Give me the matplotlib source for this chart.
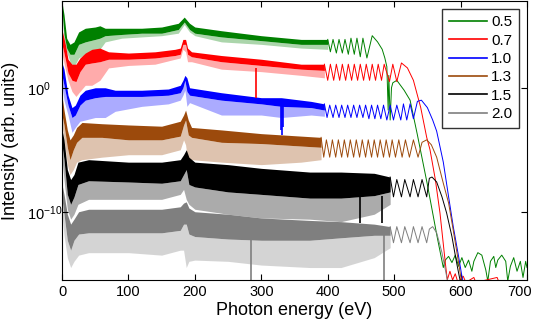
import numpy as np
import matplotlib
matplotlib.use('Agg')
import matplotlib.pyplot as plt
from matplotlib.ticker import NullLocator
from matplotlib.transforms import ScaledTranslation

plt.rcParams['font.family'] = ['Liberation Sans', 'DejaVu Sans']
plt.rcParams['mathtext.default'] = 'regular'

labels = ['0.5', '0.7', '1.0', '1.3', '1.5', '2.0']
colors = ['#008000', '#ff0000', '#0000ff', '#9c4a0c', '#000000', '#7f7f7f']

# noisy low-energy part: energy (eV) and log10(intensity) of
# band top, dense core bottom and tips of the downward spikes
green_e = [0, 3, 7, 12, 18, 25, 35, 50, 57, 65, 90, 120, 150, 175, 184, 192, 200, 240, 300, 360, 400]
green_top = [6.9, 5.9, 4.0, 3.5, 3.7, 4.5, 4.8, 4.9, 5.0, 4.8, 4.8, 4.8, 4.9, 5.2, 5.7, 5.2, 4.9, 4.6, 4.2, 3.9, 3.9]
green_core = [6.3, 4.3, 3.2, 2.7, 2.7, 3.5, 3.7, 3.9, 4.0, 4.2, 4.3, 4.4, 4.4, 4.7, 5.3, 4.7, 4.4, 4.1, 3.8, 3.5, 3.5]
green_spk = [5.9, 3.9, 2.9, 2.1, 1.7, 2.4, 2.7, 2.9, 3.1, 3.7, 4.0, 4.1, 4.2, 4.4, 5.1, 4.5, 4.2, 3.7, 3.5, 3.2, 3.1]

red_e = [0, 5, 9, 15, 21, 27, 35, 45, 57, 70, 100, 140, 170, 178, 182, 186, 189, 195, 240, 300, 360, 395]
red_top = [4.7, 3.5, 2.3, 1.9, 1.9, 2.4, 2.8, 3.1, 3.2, 2.9, 2.8, 2.9, 3.1, 3.2, 3.9, 3.9, 3.2, 2.9, 2.6, 2.3, 1.9, 1.9]
red_core = [3.5, 2.3, 1.2, 0.6, 0.5, 1.3, 1.9, 2.0, 2.1, 2.3, 2.3, 2.4, 2.6, 2.7, 3.5, 3.5, 2.7, 2.5, 2.1, 1.8, 1.5, 1.4]
red_spk = [2.7, 1.5, 0.6, -0.3, -0.7, -0.3, 0.2, 0.2, 0.6, 1.6, 1.8, 1.9, 2.3, 2.4, 3.1, 2.9, 2.1, 2.1, 1.5, 1.3, 1.0, 0.8]

blue_e = [0, 3, 9, 15, 20, 27, 35, 50, 65, 80, 120, 160, 178, 182, 185, 188, 192, 240, 300, 330, 375, 395]
blue_top = [2.0, 1.5, -0.6, -1.6, -1.4, -0.6, -0.2, 0.0, 0.0, -0.2, -0.2, -0.1, 0.2, 0.6, 1.0, 0.8, 0.0, -0.4, -0.8, -0.8, -1.1, -1.3]
blue_core = [1.0, 0.2, -1.4, -2.4, -2.2, -1.4, -1.0, -0.8, -0.7, -0.7, -0.7, -0.6, -0.4, 0.0, 0.6, -0.3, -0.6, -1.0, -1.3, -1.5, -1.6, -1.8]
blue_spk = [0.2, -1.0, -2.2, -3.6, -3.2, -2.7, -2.6, -2.4, -2.4, -1.9, -1.5, -1.3, -1.0, -0.6, -0.2, -1.5, -1.2, -2.2, -2.2, -2.4, -2.2, -2.3]

brown_e = [0, 3, 8, 12, 17, 22, 30, 60, 100, 150, 178, 183, 186, 190, 195, 240, 300, 360, 390]
brown_top = [-0.7, -1.8, -3.4, -4.2, -3.8, -3.2, -2.8, -2.9, -3.0, -3.1, -2.7, -2.2, -1.8, -2.6, -3.2, -3.4, -3.7, -3.9, -4.0]
brown_core = [-2.2, -3.0, -4.8, -5.8, -5.0, -4.4, -4.0, -4.0, -4.2, -4.2, -3.9, -3.0, -2.6, -3.8, -4.0, -4.4, -4.5, -4.7, -4.8]
brown_spk = [-3.0, -4.2, -6.2, -7.0, -6.6, -6.0, -5.8, -5.6, -5.4, -5.4, -5.0, -4.2, -4.6, -6.2, -5.8, -6.0, -6.2, -6.0, -5.8]

black_e = [0, 3, 8, 13, 18, 24, 40, 100, 150, 178, 183, 187, 191, 200, 250, 300, 373, 420, 470, 494]
black_top = [-3.4, -4.2, -6.6, -7.4, -7.0, -6.0, -5.8, -6.0, -6.0, -5.8, -5.4, -5.0, -5.6, -6.0, -6.2, -6.5, -6.8, -6.8, -6.9, -7.2]
black_core = [-4.6, -5.8, -8.6, -9.4, -8.8, -7.8, -7.5, -7.6, -7.7, -7.5, -7.0, -6.6, -7.8, -8.0, -8.4, -8.6, -8.9, -8.9, -8.7, -8.4]
black_spk = [-5.8, -7.4, -9.8, -10.6, -10.2, -9.4, -9.0, -9.0, -9.0, -8.6, -8.2, -9.0, -9.4, -9.8, -10.2, -10.5, -10.6, -10.8, -10.2, -9.4]

gray_e = [0, 3, 8, 13, 18, 25, 40, 100, 150, 178, 183, 187, 191, 200, 250, 300, 373, 420, 470, 494]
gray_top = [-7.8, -8.6, -10.2, -11.0, -10.6, -10.0, -9.8, -9.8, -9.8, -9.6, -9.3, -9.2, -9.7, -10.0, -10.2, -10.5, -10.7, -10.8, -11.0, -11.2]
gray_core = [-9.0, -10.2, -12.3, -13.1, -12.3, -11.8, -11.7, -11.7, -11.7, -11.5, -11.0, -11.0, -11.8, -12.0, -12.2, -12.3, -12.3, -12.1, -11.9, -11.9]
gray_spk = [-10.2, -11.9, -13.7, -14.5, -14.0, -13.5, -13.3, -13.3, -13.5, -13.1, -13.1, -14.5, -14.0, -13.9, -14.0, -14.3, -14.5, -14.5, -13.7, -12.9]

# fringes, cut-off and floor: energy (eV), log10(intensity)
green_le = [400, 404, 408, 413, 417, 422, 426, 431, 435, 440, 444, 449, 453, 459, 467, 475, 482,
            486, 489, 491, 492, 494, 496, 498, 504, 515, 524, 535, 550, 565, 574,
            577, 582, 587, 592, 597, 602, 607, 612, 617, 620, 626, 632, 638, 641, 645, 650,
            653, 656, 662, 668, 671, 675, 680, 685, 690, 694, 698, 700]
green_ly = [3.9, 2.9, 3.9, 2.8, 3.9, 2.8, 3.9, 2.7, 4.0, 2.7, 4.0, 2.5, 4.0, 2.4, 4.2, 3.7, 3.1,
            2.4, 1.7, -1.8, 1.0, -2.6, 0.0, 0.4, 0.6, -0.2, -1.0, -3.8, -7.8, -12.1, -14.5,
            -13.9, -13.6, -14.1, -13.5, -14.4, -13.7, -14.5, -13.9, -14.8, -14.0, -13.3, -13.5, -14.7, -15.6, -14.0, -13.6,
            -14.5, -13.9, -13.5, -14.0, -15.6, -14.4, -13.7, -14.8, -14.0, -15.3, -14.0, -14.5]

red_le = [395, 400, 404, 409, 413, 418, 422, 427, 431, 436, 440, 445, 449, 454, 458, 463, 467,
          472, 476, 481, 485, 493, 498, 504, 511, 520, 529, 540, 549, 554, 562, 569, 577,
          580, 584, 588, 592, 596, 604, 608, 620, 623, 655, 658, 700]
red_ly = [1.9, 0.6, 1.9, 0.6, 1.9, 0.6, 1.9, 0.6, 1.9, 0.6, 1.9, 0.6, 1.9, 0.6, 1.9, 0.6, 1.9,
          0.6, 1.9, 0.6, 1.9, 0.5, 1.9, 0.5, 2.0, 1.6, 0.6, -1.6, -4.0, -5.0, -7.4, -10.1, -14.1,
          -15.5, -14.8, -15.5, -15.0, -15.7, -15.2, -15.7, -15.3, -15.7, -15.3, -15.7, -15.7]

blue_le = [395, 399, 403, 408, 412, 417, 421, 426, 430, 435, 439, 444, 448, 453, 457, 462, 466,
           471, 475, 480, 484, 489, 494, 499, 504, 510, 514, 519, 524, 529, 535, 541, 550,
           558, 564, 574, 582, 589, 597, 602, 604]
blue_ly = [-1.3, -2.4, -1.4, -2.4, -1.4, -2.4, -1.4, -2.4, -1.4, -2.4, -1.4, -2.4, -1.4, -2.4, -1.4, -2.5, -1.4,
           -2.5, -1.4, -2.5, -1.4, -2.6, -1.4, -2.6, -1.4, -2.6, -1.3, -2.6, -1.3, -2.5, -1.1, -1.0, -1.6,
           -2.6, -3.5, -6.0, -8.8, -11.2, -13.6, -15.2, -15.7]

brown_le = [390, 394, 398, 403, 407, 412, 416, 421, 425, 430, 434, 439, 443, 448, 452, 457, 461,
            466, 470, 475, 479, 484, 488, 493, 497, 502, 507, 512, 517, 523, 529, 536, 542,
            549, 556, 564, 574, 582, 589, 597, 601, 603]
brown_ly = [-4.0, -5.6, -4.2, -5.6, -4.2, -5.6, -4.2, -5.6, -4.2, -5.6, -4.2, -5.6, -4.2, -5.6, -4.2, -5.6, -4.2,
            -5.6, -4.2, -5.6, -4.2, -5.6, -4.2, -5.6, -4.2, -5.6, -4.2, -5.6, -4.2, -5.6, -4.2, -5.6, -4.4,
            -4.2, -4.6, -5.6, -7.7, -9.3, -11.5, -14.1, -15.5, -15.7]

black_le = [494, 499, 504, 511, 516, 524, 529, 536, 542, 549, 553, 557, 564, 572, 579, 587, 594, 598, 600]
black_ly = [-7.2, -8.8, -7.4, -8.8, -7.4, -8.8, -7.4, -8.8, -7.4, -8.8, -7.3, -7.2, -7.6, -8.8, -10.1, -12.0, -14.1, -15.2, -15.7]

gray_le = [494, 499, 504, 511, 516, 524, 529, 536, 542, 549, 553, 558, 564, 572, 579, 581]
gray_ly = [-11.2, -12.5, -11.2, -12.5, -11.2, -12.5, -11.2, -12.5, -11.2, -12.5, -11.4, -11.2, -11.7, -13.3, -15.2, -15.7]

# single deep spikes: energy (eV), log10 of spike top and bottom
red_deep = [(292, 1.6, -0.8)]
blue_deep = [(329, -1.4, -3.4), (331, -1.4, -3.8), (333, -1.4, -3.2)]
black_deep = [(449, -8.8, -10.9), (481, -8.7, -10.9)]
gray_deep = [(284, -12.1, -15.5), (484, -11.9, -15.5)]

series = [
    (green_e, green_top, green_core, green_spk, green_le, green_ly, []),
    (red_e, red_top, red_core, red_spk, red_le, red_ly, red_deep),
    (blue_e, blue_top, blue_core, blue_spk, blue_le, blue_ly, blue_deep),
    (brown_e, brown_top, brown_core, brown_spk, brown_le, brown_ly, []),
    (black_e, black_top, black_core, black_spk, black_le, black_ly, black_deep),
    (gray_e, gray_top, gray_core, gray_spk, gray_le, gray_ly, gray_deep),
]


def p10(v):
    return np.power(10.0, np.asarray(v, dtype=float))


fig = plt.figure(figsize=(5.36, 3.24), dpi=100)
ax = fig.add_axes([0.1157, 0.136, 0.8675, 0.861])
ax.set_yscale('log')

handles = []
for (e, top, core, spk, le, ly, deep), c in zip(series, colors):
    ax.fill_between(e, p10(spk), p10(core), color=c, alpha=0.33, lw=0)
    ax.fill_between(e, p10(core), p10(top), color=c, lw=0)
    for de, hi, lo in deep:
        ax.vlines(de, 10.0 ** lo, 10.0 ** hi, color=c, lw=1.2)
    ln, = ax.plot(le, p10(ly), color=c, lw=0.7)
    handles.append(ln)

ax.set_xlim(0, 700)
ax.set_ylim(10 ** -15.5, 10 ** 7)
ax.set_xticks(range(0, 701, 100))
ax.set_yticks([1e-10, 1e0])
ax.yaxis.set_minor_locator(NullLocator())
ax.tick_params(direction='in', top=True, right=True, length=4, width=0.8, labelsize=10.5)
ax.tick_params(axis='y', pad=25)
for t in ax.get_yticklabels():
    t.set_horizontalalignment('left')
last = ax.get_xticklabels()[-1]
last.set_transform(last.get_transform() + ScaledTranslation(-5 / 72, 0, fig.dpi_scale_trans))
for s in ax.spines.values():
    s.set_linewidth(0.8)

ax.set_xlabel('Photon energy (eV)', fontsize=13)
ax.set_ylabel('Intensity (arb. units)', fontsize=13)
ax.xaxis.set_label_coords(0.5, -0.08)
ax.yaxis.set_label_coords(-0.092, 0.5)

leg = ax.legend(handles, labels, loc='upper right', fontsize=11, handlelength=2.5,
                handletextpad=0.3, borderpad=0.45, borderaxespad=0.5, labelspacing=0.28,
                fancybox=False, framealpha=1, edgecolor='#333333')
leg.get_frame().set_linewidth(1.0)
for hl in leg.get_lines():
    hl.set_linewidth(1.2)

fig.savefig('out.png', dpi=100)
